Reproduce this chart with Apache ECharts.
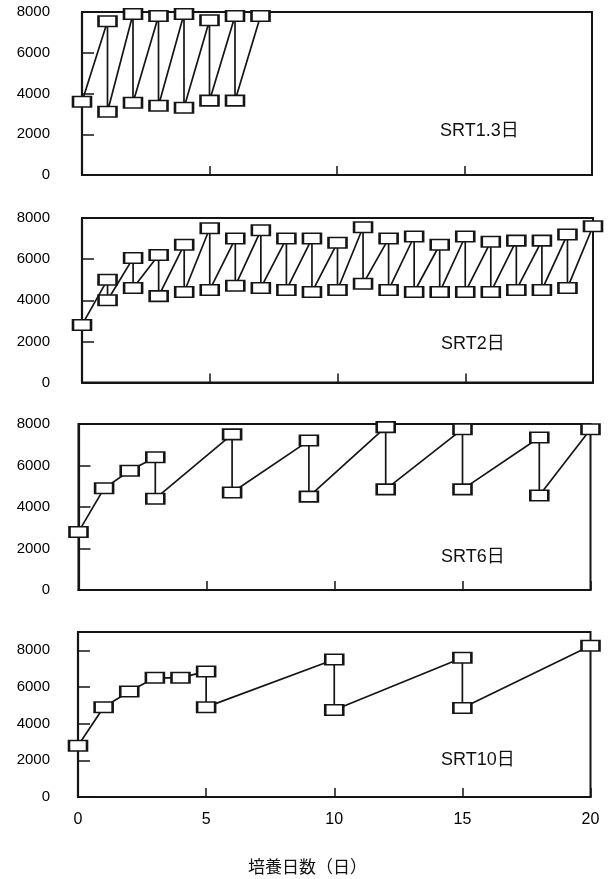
<!DOCTYPE html>
<html>
<head>
<meta charset="utf-8">
<title>SRT</title>
<script src="https://cdn.jsdelivr.net/npm/echarts@6/dist/echarts.min.js"></script>
<style>
  html, body { margin: 0; padding: 0; background: #fff; }
  #main { width: 608px; height: 879px; }
</style>
</head>
<body>
<div id="main"></div>
<script type="text/javascript">
// SRT1.3日
var srt13Days = [0, 1, 1, 2, 2, 3, 3, 4, 4, 5, 5, 6, 6, 7];
var srt13Vals = [3600, 7550, 3100, 7900, 3550, 7800, 3400, 7900, 3300, 7600, 3650, 7800, 3650, 7800];

// SRT2日
var srt2Days = [0, 1, 1, 2, 2, 3, 3, 4, 4, 5, 5, 6, 6, 7, 7, 8, 8, 9, 9, 10, 10,
                11, 11, 12, 12, 13, 13, 14, 14, 15, 15, 16, 16, 17, 17, 18, 18, 19, 19, 20];
var srt2Vals = [2800, 5000, 4000, 6050, 4600, 6200, 4200, 6700, 4400, 7500, 4500,
                7000, 4700, 7400, 4600, 7000, 4500, 7000, 4400, 6800, 4500,
                7550, 4800, 7000, 4500, 7100, 4400, 6700, 4400, 7100, 4400,
                6850, 4400, 6900, 4500, 6900, 4500, 7200, 4600, 7600];

// SRT6日
var srt6Days = [0, 1, 2, 3, 3, 6, 6, 9, 9, 12, 12, 15, 15, 18, 18, 20];
var srt6Vals = [2800, 4900, 5750, 6400, 4400, 7500, 4700, 7200, 4500, 7850, 4850, 7750, 4850, 7350, 4550, 7750];

// SRT10日
var srt10Days = [0, 1, 2, 3, 4, 5, 5, 10, 10, 15, 15, 20];
var srt10Vals = [2800, 4900, 5750, 6500, 6500, 6850, 4900, 7500, 4750, 7600, 4850, 8250];

var panelNames = ['SRT1.3日', 'SRT2日', 'SRT6日', 'SRT10日'];
var xTicks = [0, 5, 10, 15, 20];
var yMax = [8000, 8000, 8000, 9000];

function pairs(xs, ys) {
    var out = [];
    for (var i = 0; i < xs.length; i++) out.push([xs[i], ys[i]]);
    return out;
}
var seriesData = [
    pairs(srt13Days, srt13Vals),
    pairs(srt2Days, srt2Vals),
    pairs(srt6Days, srt6Vals),
    pairs(srt10Days, srt10Vals)
];

// panel boxes (px)
var boxes = [
    { left: 82, top: 12, right: 592, bottom: 175 },
    { left: 82, top: 218, right: 593, bottom: 382.5 },
    { left: 78.5, top: 424, right: 590.5, bottom: 590 },
    { left: 78, top: 632, right: 590.5, bottom: 797 }
];
var labelPos = [[440, 132], [441, 345], [441, 558], [441, 761]];

var ink = '#151515';
var grids = [], xAxes = [], yAxes = [], series = [], texts = [];

boxes.forEach(function (b, i) {
    grids.push({
        left: b.left, top: b.top,
        width: b.right - b.left, height: b.bottom - b.top,
        show: true, borderColor: ink, borderWidth: 2,
        backgroundColor: 'transparent'
    });
    xAxes.push({
        type: 'value', gridIndex: i, min: xTicks[0], max: xTicks[xTicks.length - 1], interval: 5,
        axisLine: { show: true, onZero: false, lineStyle: { color: ink, width: 2.2 } },
        axisTick: { show: true, inside: true, length: 9, lineStyle: { color: ink, width: 1.5 } },
        splitLine: { show: false },
        axisLabel: {
            show: i === 3, margin: 15, color: '#000', fontSize: 16,
            fontFamily: 'Liberation Sans, Arial, sans-serif'
        }
    });
    yAxes.push({
        type: 'value', gridIndex: i, min: 0, max: yMax[i], interval: 2000,
        axisLine: { show: true, onZero: false, lineStyle: { color: ink, width: 2.2 } },
        axisTick: { show: true, inside: true, length: 12, lineStyle: { color: ink, width: 1.5 } },
        splitLine: { show: false },
        axisLabel: {
            margin: b.left - 50, color: '#000', fontSize: 15,
            fontFamily: 'Liberation Sans, Arial, sans-serif',
            showMaxLabel: yMax[i] === 8000,
            formatter: function (v) { return v % 2000 === 0 ? String(v) : ''; }
        }
    });
    series.push({
        type: 'line', xAxisIndex: i, yAxisIndex: i,
        data: seriesData[i],
        clip: false,
        symbol: 'rect', symbolSize: [18, 10.5], showAllSymbol: true,
        itemStyle: { color: '#fff', borderColor: ink, borderWidth: 2 },
        lineStyle: { color: ink, width: 1.7 },
        emphasis: { disabled: true },
        animation: false
    });
    texts.push({
        type: 'text', left: labelPos[i][0], top: labelPos[i][1] - 10,
        style: {
            text: panelNames[i], fill: '#111', fontSize: 18,
            fontFamily: 'Liberation Sans, Arial, Noto Sans CJK JP, sans-serif'
        }
    });
});

texts.push({
    type: 'text', left: 248, top: 858,
    style: {
        text: '培養日数（日）', fill: '#111', fontSize: 17,
        fontFamily: 'Noto Sans CJK JP, sans-serif'
    }
});

var myChart = echarts.init(document.getElementById('main'), null, { renderer: 'canvas' });
myChart.setOption({
    backgroundColor: '#fff',
    animation: false,
    grid: grids,
    xAxis: xAxes,
    yAxis: yAxes,
    series: series,
    graphic: texts
});
</script>
</body>
</html>
